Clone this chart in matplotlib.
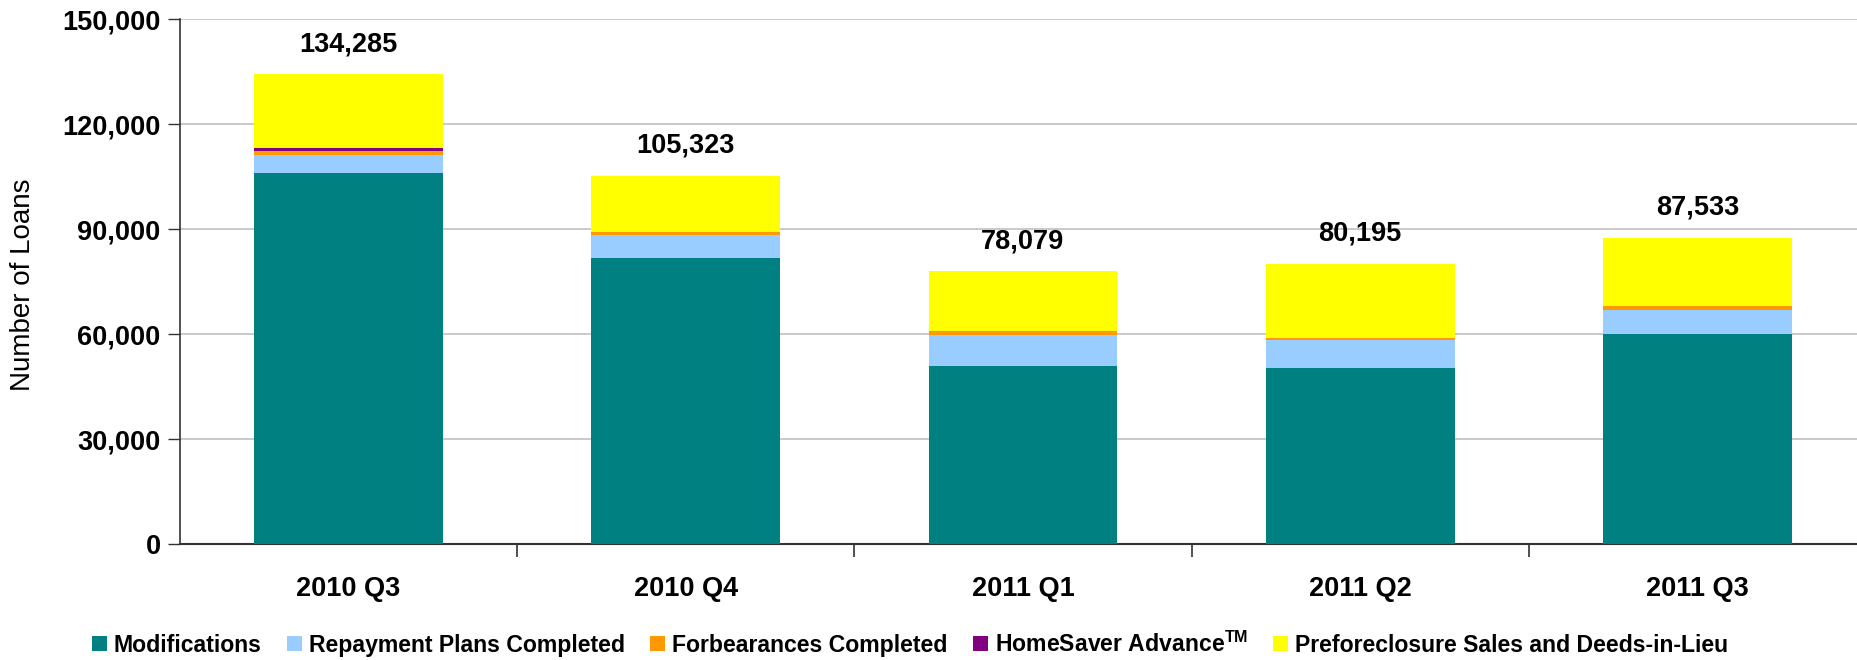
import matplotlib.pyplot as plt
from matplotlib.ticker import FuncFormatter

plt.rcParams['font.family'] = ['Liberation Sans', 'DejaVu Sans']

quarters = ['2010 Q3', '2010 Q4', '2011 Q1', '2011 Q2', '2011 Q3']
modifications = [106100, 81800, 50900, 50400, 60100]
repayment = [5100, 6600, 8800, 8000, 6900]
forbearance = [1200, 900, 1200, 600, 1100]
homesaver = [800, 50, 50, 50, 50]
totals = [134285, 105323, 78079, 80195, 87533]
preforeclosure = [t - m - r - f - h for t, m, r, f, h in
                  zip(totals, modifications, repayment, forbearance, homesaver)]

series = [
    ('Modifications', modifications, '#008080'),
    ('Repayment Plans Completed', repayment, '#99CCFF'),
    ('Forbearances Completed', forbearance, '#FF9900'),
    (r'HomeSaver Advance$^{\mathregular{TM}}$', homesaver, '#800080'),
    ('Preforeclosure Sales and Deeds-in-Lieu', preforeclosure, '#FFFF00'),
]

fig = plt.figure(figsize=(18.58, 6.6), dpi=100)
ax = fig.add_axes([180 / 1858, 1 - 544.3 / 660, 1686 / 1858, 525 / 660])

x = range(len(quarters))
bottom = [0] * len(quarters)
for name, vals, color in series:
    ax.bar(x, vals, 0.56, bottom=bottom, color=color, label=name, zorder=3)
    bottom = [b + v for b, v in zip(bottom, vals)]

for i, t in enumerate(totals):
    ax.annotate(f'{t:,}', (i, t), xytext=(0, 17), textcoords='offset pixels',
                ha='center', va='bottom', fontsize=19.5, fontweight='bold')

ax.set_xlim(-0.5, len(quarters) - 0.5)
ax.set_ylim(0, 150000)
ax.set_yticks(range(0, 150001, 30000))
ax.yaxis.set_major_formatter(FuncFormatter(lambda v, p: f'{int(v):,}'))
ax.set_xticks(list(x))
ax.set_xticklabels(quarters)
ax.set_xticks([i + 0.5 for i in range(len(quarters) - 1)], minor=True)
ax.tick_params(axis='x', which='major', length=0, pad=23, labelsize=19.5)
ax.tick_params(axis='x', which='minor', length=9, width=1.2, color='#333333')
ax.tick_params(axis='y', length=9, width=1, color='#333333', pad=5, labelsize=19.5)
for lbl in ax.get_xticklabels() + ax.get_yticklabels():
    lbl.set_fontweight('bold')

ax.grid(axis='y', color='#C0C0C0', linewidth=1.2, zorder=0)
for s in ['top', 'right']:
    ax.spines[s].set_visible(False)
ax.spines['left'].set_color('#333333')
ax.spines['bottom'].set_color('#333333')
ax.spines['left'].set_linewidth(1.2)
ax.spines['bottom'].set_linewidth(1.5)

fig.text(23 / 1858, 1 - 285 / 660, 'Number of Loans', rotation=90, fontsize=20,
         ha='center', va='center')

fig.legend(loc='center', bbox_to_anchor=(910 / 1858, 1 - 644 / 660), ncol=5,
           frameon=False, prop={'weight': 'bold', 'size': 16.6},
           handlelength=0.65, handleheight=0.65, handletextpad=0.3,
           columnspacing=1.1)

fig.savefig('out.png', dpi=100)
